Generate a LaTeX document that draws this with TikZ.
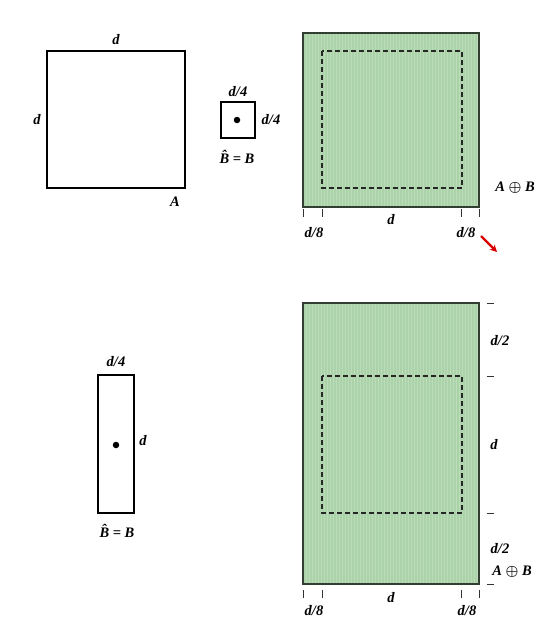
\documentclass[tikz,border=0pt]{standalone}
\usepackage{amsmath}
\usepackage{fontspec}
\setmainfont{Liberation Serif}
\usetikzlibrary{arrows.meta}
\definecolor{gfill}{RGB}{172,210,170}
\definecolor{ggrid}{RGB}{186,220,184}
\definecolor{gborder}{RGB}{50,62,50}
\begin{document}
\begin{tikzpicture}[x=1pt,y=-1pt,
  lab/.style={font=\bfseries\itshape\fontsize{14.5}{14.5}\selectfont, inner sep=0pt},
  plainbox/.style={draw=black, line width=1.4pt},
  greenbox/.style={draw=gborder, line width=1.8pt},
  dashbox/.style={draw=black!85, line width=1.6pt, dash pattern=on 5pt off 3pt},
  tick/.style={draw=black!80, line width=1pt},
  dotmark/.style={circle, fill=black, inner sep=0pt, minimum size=6.5pt}]
\useasboundingbox (0,0) rectangle (556,642);

% ---------- top left: A ----------
\draw[plainbox] (47,51) rectangle (185,188);
\node[lab] (Atop) at (116,40) {d};
\node[lab] (Aleft) at (37,120) {d};
\node[lab] (Aname) at (175,202) {A};

% ---------- top middle: small B ----------
\draw[plainbox] (221,102) rectangle (255,138);
\node[dotmark] (Bdot1) at (237,120) {};
\node[lab] (B1top) at (238,92) {d/4};
\node[lab] (B1right) at (271,120) {d/4};
\node[lab] (B1name) at (237,157) {\^{B} = B};

% ---------- top right: A+B ----------
\fill[gfill] (303,33) rectangle (479,207);
\begin{scope}
\clip (303,33) rectangle (479,207);
\draw[ggrid, line width=0.4pt, step=3] (303,33) grid (479,207);
\end{scope}
\draw[greenbox] (303,33) rectangle (479,207);
\draw[dashbox] (322,51) rectangle (462,188);
\foreach \xx in {303,322,461,479} \draw[tick] (\xx,209) -- (\xx,217);
\node[lab] (T1l) at (314,233) {d/8};
\node[lab] (T1c) at (391,220) {d};
\node[lab] (T1r) at (466,233) {d/8};
\node[lab] (T1name) at (515,188) {A $\boldsymbol{\oplus}$ B};
\coordinate (ra) at (481,236);
\coordinate (rb) at (497,252);
\draw[red!85!black, line width=2.2pt, -{Stealth[length=7pt,width=7pt]}] (ra) -- (rb);

% ---------- bottom left: tall B ----------
\draw[plainbox] (98,375) rectangle (134,513);
\node[dotmark] (Bdot2) at (116,445) {};
\node[lab] (B2top) at (116,362) {d/4};
\node[lab] (B2right) at (143,441) {d};
\node[lab] (B2name) at (117,531) {\^{B} = B};

% ---------- bottom right: A+B ----------
\fill[gfill] (303,303) rectangle (479,584);
\begin{scope}
\clip (303,303) rectangle (479,584);
\draw[ggrid, line width=0.4pt, step=3] (303,303) grid (479,584);
\end{scope}
\draw[greenbox] (303,303) rectangle (479,584);
\draw[dashbox] (322,376) rectangle (462,513);
\foreach \yy in {303,376,513,584} \draw[tick] (487,\yy) -- (494,\yy);
\node[lab] (R1) at (500,341) {d/2};
\node[lab] (R2) at (494,445) {d};
\node[lab] (R3) at (500,549) {d/2};
\node[lab] (T2name) at (512,572) {A $\boldsymbol{\oplus}$ B};
\foreach \xx in {303,322,461,479} \draw[tick] (\xx,590) -- (\xx,598);
\node[lab] (T2l) at (314,611) {d/8};
\node[lab] (T2c) at (391,598) {d};
\node[lab] (T2r) at (467,611) {d/8};
\end{tikzpicture}
\end{document}
